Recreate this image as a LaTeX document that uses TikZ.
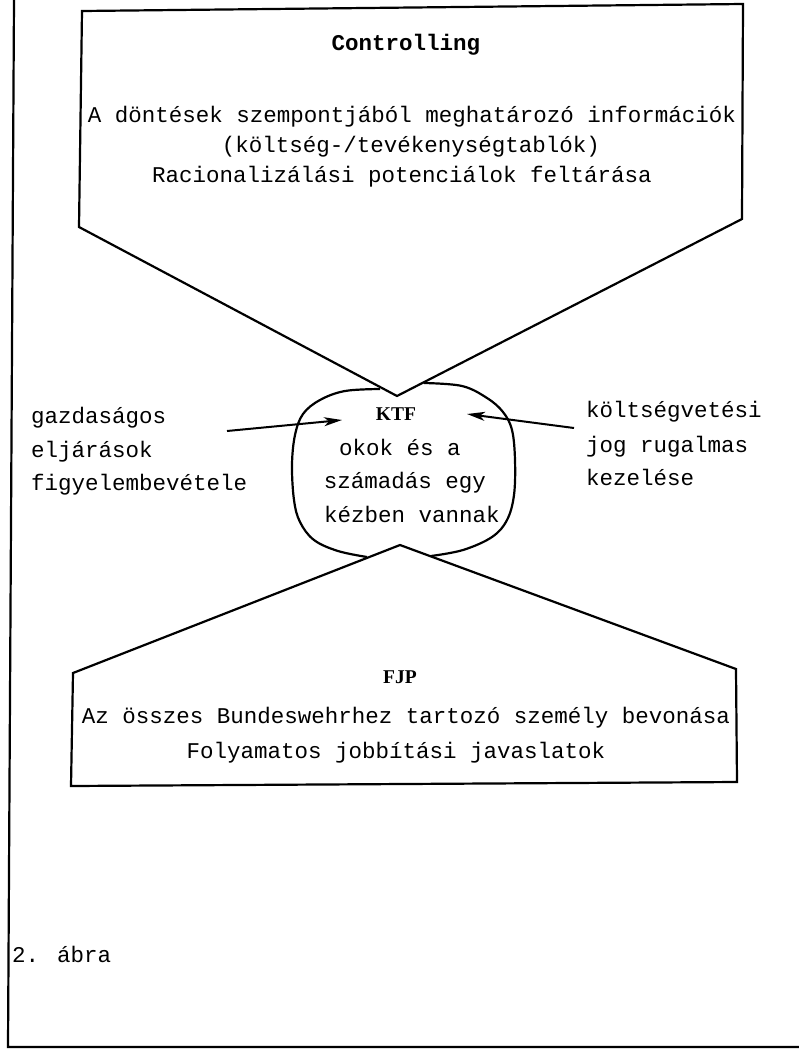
\documentclass[tikz,border=0pt]{standalone}
\usepackage{fontspec}
\setmainfont{Liberation Serif}
\newfontfamily\typefont{Liberation Mono}
\newfontfamily\headfont{Liberation Serif}
\usetikzlibrary{arrows.meta,calc}

\begin{document}
\begin{tikzpicture}[x=1pt,y=-1pt,
  line join=miter,
  outline/.style={draw=black, line width=2.2pt},
  txt/.style={font=\typefont\fontsize{22.5}{27}\selectfont, inner sep=0pt, anchor=base},
  lefttxt/.style={txt, anchor=base west},
  monohead/.style={font=\typefont\bfseries\fontsize{22.5}{27}\selectfont, inner sep=0pt, anchor=base},
  headtxt/.style={font=\headfont\bfseries\fontsize{19.5}{23}\selectfont, inner sep=0pt, anchor=base},
  arr/.style={draw=black, line width=2pt, -{Stealth[length=18pt,width=9pt,inset=5pt]}}]

\useasboundingbox (0,0) rectangle (799,1053);

% page frame: left rule and bottom rule
\coordinate (framet) at (14,0);
\coordinate (frameb) at (8,1047);
\coordinate (framer) at (799,1047);
\draw[outline] (framet) -- (frameb) -- (framer);

% Controlling: pentagon pointing down
\coordinate (ctl) at (82,11);
\coordinate (ctr) at (743,4);
\coordinate (cbr) at (742,219);
\coordinate (cbl) at (79,227);
\coordinate (capex) at (397,396);
\draw[outline] (capex) -- (cbl) -- (ctl) -- (ctr) -- (cbr) -- cycle;

% FJP: pentagon pointing up
\coordinate (fapex) at (400,545);
\coordinate (ftr) at (736,669);
\coordinate (fbr) at (737,782);
\coordinate (fbl) at (71,786);
\coordinate (ftl) at (73,673);
\draw[outline] (fapex) -- (ftr) -- (fbr) -- (fbl) -- (ftl) -- cycle;

% KTF: rounded body between the two tips, left and right halves
\draw[outline, line join=round] plot[smooth, tension=0.6] coordinates {
  (380,389) (345,391) (320,400) (303,414) (295,435) (292,465)
  (294,500) (300,522) (314,540) (338,551) (367,557)};
\draw[outline, line join=round] plot[smooth, tension=0.6] coordinates {
  (424,383) (462,386) (487,398) (503,412) (512,430) (515,460)
  (514,495) (507,520) (492,537) (463,550) (431,556)};

% Controlling texts
\node[monohead] (ctitle) at (406,50) {Controlling};
\node[txt] (c1) at (412,122) {A döntések szempontjából meghatározó információk};
\node[txt] (c2) at (411,152) {(költség-/tevékenységtablók)};
\node[txt] (c3) at (402,182) {Racionalizálási potenciálok feltárása};

% KTF texts
\node[headtxt] (ktf) at (396,420) {KTF};
\node[txt] (k1) at (400,455) {okok és a};
\node[txt] (k2) at (405,488) {számadás egy};
\node[txt] (k3) at (412,522) {kézben vannak};

% side inputs
\node[lefttxt] (l1) at (31,423) {gazdaságos};
\node[lefttxt] (l2) at (31,457) {eljárások};
\node[lefttxt] (l3) at (31,490) {figyelembevétele};
\node[lefttxt] (r1) at (586,417) {költségvetési};
\node[lefttxt] (r2) at (586,452) {jog rugalmas};
\node[lefttxt] (r3) at (586,485) {kezelése};

\coordinate (la) at (227,431);
\coordinate (lb) at (342,420);
\coordinate (ra) at (574,428);
\coordinate (rb) at (467,414);
\draw[arr] (la) -- (lb);
\draw[arr] (ra) -- (rb);

% FJP texts
\node[headtxt] (fjp) at (400,683) {FJP};
\node[txt] (f1) at (406,723) {Az összes Bundeswehrhez tartozó személy bevonása};
\node[txt] (f2) at (396,758) {Folyamatos jobbítási javaslatok};

% caption
\node[lefttxt] (fig) at (12,962) {2. ábra};
\end{tikzpicture}
\end{document}
